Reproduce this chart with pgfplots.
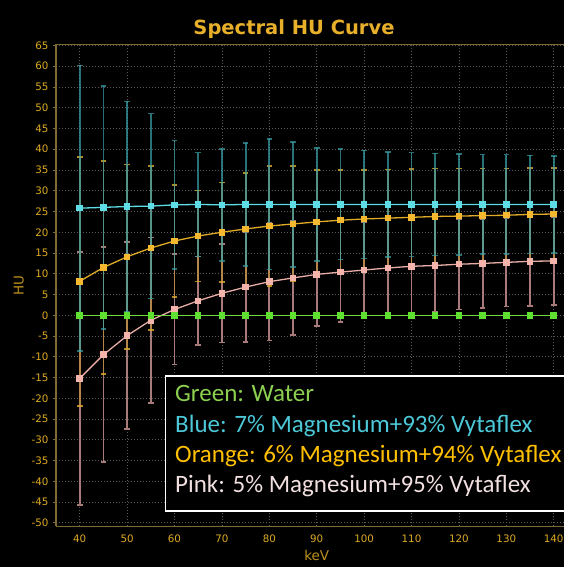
\documentclass[border=0pt]{standalone}
\usepackage{pgfplots}
\pgfplotsset{compat=1.18}
\usepackage{pgfplotstable}
\usepackage{fontspec}
\setmainfont{DejaVu Sans}
\newfontfamily\calibri{Carlito}

\definecolor{gold}{HTML}{DDAA22}
\definecolor{titlegold}{HTML}{E8B02A}
\definecolor{axisbrown}{HTML}{7D6A35}
\definecolor{gridgray}{HTML}{5A5A5A}
\definecolor{cyanL}{HTML}{5FDDE6}
\definecolor{cyanE}{HTML}{3AA2AA}
\definecolor{orgL}{HTML}{E0AC28}
\definecolor{orgM}{HTML}{F5B82E}
\definecolor{orgE}{HTML}{B88A40}
\definecolor{pinkL}{HTML}{E8AEA6}
\definecolor{pinkM}{HTML}{F4B4AC}
\definecolor{pinkE}{HTML}{A87A7A}
\definecolor{grnL}{HTML}{6EDC3A}
\definecolor{grnM}{HTML}{5FE030}
\definecolor{lgGreen}{HTML}{8CD050}
\definecolor{lgBlue}{HTML}{4CC8D8}
\definecolor{lgOrange}{HTML}{FFC000}
\definecolor{lgPink}{HTML}{F2E0E0}

\pgfplotstableread{
x y e
40 25.8 34.4
45 26.0 29.3
50 26.2 25.3
55 26.3 22.3
60 26.6 15.5
65 26.7 12.5
70 26.6 13.5
75 26.7 14.8
80 26.7 15.7
85 26.7 15.1
90 26.7 13.6
95 26.7 13.3
100 26.7 13.0
105 26.7 12.7
110 26.7 12.5
115 26.7 12.3
120 26.7 12.2
125 26.7 12.0
130 26.7 12.0
135 26.7 11.8
140 26.7 11.7
}\blue

\pgfplotstableread{
x y e
40 8.2 30.0
45 11.5 25.6
50 14.1 22.2
55 16.2 19.7
60 17.9 13.5
65 19.1 11.0
70 20.0 12.0
75 20.8 13.5
80 21.5 14.4
85 22.0 13.9
90 22.5 12.5
95 22.9 12.1
100 23.2 11.8
105 23.4 11.7
110 23.6 11.6
115 23.8 11.6
120 23.9 11.5
125 24.0 11.4
130 24.1 11.3
135 24.3 11.2
140 24.4 11.1
}\orange

\pgfplotstableread{
x y e
40 -15.2 30.5
45 -9.5 25.9
50 -4.9 22.5
55 -1.2 19.9
60 1.4 13.3
65 3.5 10.7
70 5.3 11.9
75 6.8 13.3
80 8.1 14.2
85 9.0 13.7
90 9.85 12.4
95 10.4 12.0
100 10.9 11.6
105 11.4 11.4
110 11.8 11.4
115 12.0 11.2
120 12.3 10.95
125 12.5 10.75
130 12.75 10.65
135 13.0 10.7
140 13.1 10.55
}\pink

\pgfplotstableread{
x y
40 0
45 0
50 0
55 0
60 0
65 0
70 0
75 0
80 0
85 0
90 0
95 0
100 0
105 0
110 0
115 0
120 0
125 0
130 0
135 0
140 0
}\water

\begin{document}
\begin{tikzpicture}
\fill[black] (0,0) rectangle (564pt,567pt);
\clip (0,0) rectangle (564pt,567pt);
\node[text=titlegold, font=\bfseries\fontsize{19.5}{22}\selectfont, anchor=center] at (294pt,538pt) {Spectral HU Curve};
\begin{axis}[
  at={(56pt,40.8pt)}, anchor=south west,
  scale only axis, width=521.4pt, height=482pt,
  xmin=35, xmax=145, ymin=-50.8, ymax=65.3,
  xtick={40,50,...,140}, ytick={-50,-45,...,65},
  axis x line=box, axis y line=left,
  axis line style={-, draw=axisbrown, line width=1.2pt},
  grid=major,
  major grid style={draw=gridgray, line width=0.8pt, dash pattern=on 1pt off 2pt},
  tick style={draw=axisbrown, line width=0.8pt},
  xtick style={draw=none},
  major tick length=3pt, tick align=outside,
  ytick pos=left,
  /pgf/number format/assume math mode=true,
  ticklabel style={text=gold, font=\fontsize{10.3}{12}\selectfont},
  yticklabel style={xshift=-1pt},
  xticklabel style={yshift=-2pt},
  xlabel={keV}, ylabel={HU},
  label style={text=gold!85!black, font=\fontsize{13.5}{15}\selectfont},
  xlabel style={yshift=-1pt},
  ylabel style={yshift=1pt},
  every axis plot/.append style={line width=1.3pt},
  mark size=2.6pt,
]
\addplot[color=pinkL, mark=square*, mark options={fill=pinkM, draw=pinkM},
  error bars/.cd, y dir=both, y explicit,
  error bar style={draw=pinkE, solid, line width=1.8pt},
  error mark options={draw=pinkE, solid, rotate=90, mark size=2.8pt, line width=1.6pt}]
  table[x=x, y=y, y error=e] {\pink};
\addplot[color=orgL, mark=square*, mark options={fill=orgM, draw=orgM},
  error bars/.cd, y dir=both, y explicit,
  error bar style={draw=orgE, solid, line width=1.8pt, opacity=0.8},
  error mark options={draw=orgL, solid, rotate=90, mark size=2.8pt, line width=1.6pt}]
  table[x=x, y=y, y error=e] {\orange};
\addplot[color=cyanL, mark=square*, mark options={fill=cyanL, draw=cyanL},
  error bars/.cd, y dir=both, y explicit,
  error bar style={draw=cyanE, solid, line width=1.8pt, opacity=0.7},
  error mark options={draw=cyanE, solid, rotate=90, mark size=2.8pt, line width=1.6pt}]
  table[x=x, y=y, y error=e] {\blue};
\addplot[color=grnL, mark=square*, mark options={fill=grnM, draw=grnM}]
  table[x=x, y=y] {\water};
\end{axis}
\draw[white, line width=1.3pt, fill=black] (165.7pt,191pt) rectangle (600pt,56pt);
\begin{scope}[every node/.style={anchor=base west, inner sep=0pt, font=\calibri\fontsize{25}{30}\selectfont}]
\node[text=lgGreen] at (175pt,165pt) {Green: Water};
\node[text=lgBlue] at (175pt,134pt) {Blue: 7\% Magnesium+93\% Vytaflex};
\node[text=lgOrange] at (175pt,104pt) {Orange: 6\% Magnesium+94\% Vytaflex};
\node[text=lgPink] at (175pt,74pt) {Pink: 5\% Magnesium+95\% Vytaflex};
\end{scope}
\end{tikzpicture}
\end{document}
